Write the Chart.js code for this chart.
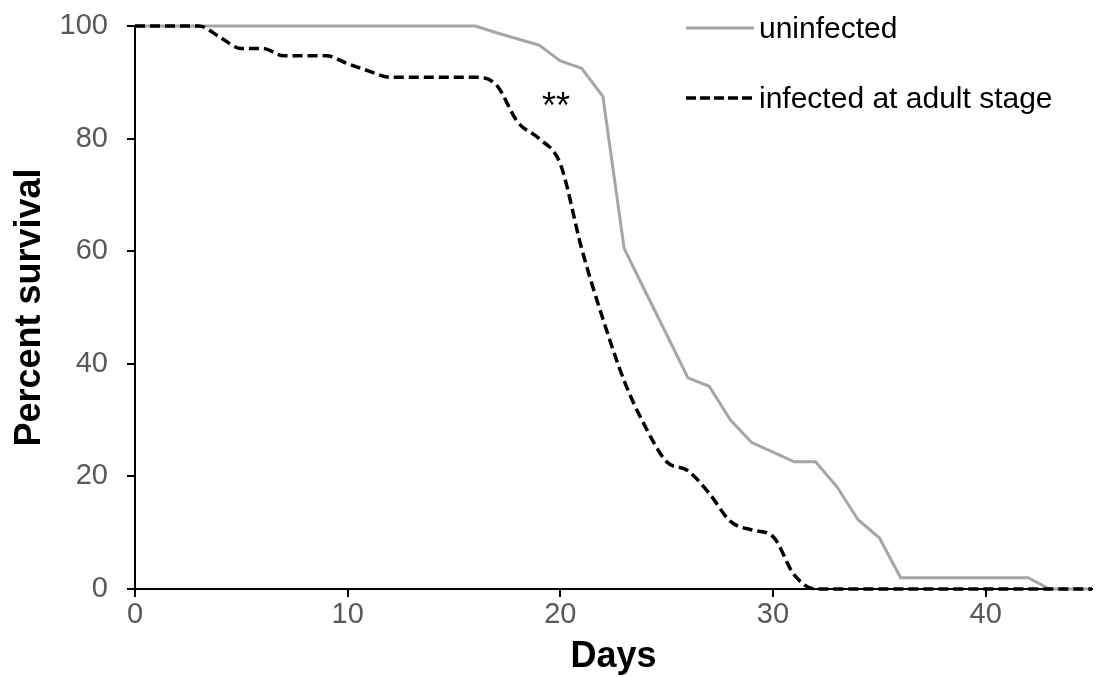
<!DOCTYPE html>
<html>
<head>
<meta charset="utf-8">
<script src="https://cdn.jsdelivr.net/npm/chart.js@4.4.1/dist/chart.umd.min.js"></script>
<style>
  html, body { margin: 0; padding: 0; background: #fff; }
  #wrap { width: 1096px; height: 677px; position: relative; }
</style>
</head>
<body>
<div id="wrap"><canvas id="survivalChart"></canvas></div>
<script>
// days 0..45
const days = [
  0, 1, 2, 3, 4, 5, 6, 7, 8, 9, 10, 11, 12, 13, 14, 15, 16, 17, 18, 19, 20, 21, 22,
  23, 24, 25, 26, 27, 28, 29, 30, 31, 32, 33, 34, 35, 36, 37, 38, 39, 40, 41, 42, 43, 44, 45,
];

const uninfected = [
  100, 100, 100, 100, 100, 100, 100, 100, 100, 100, 100, 100, 100, 100, 100, 100, 100,
  98.8, 97.7, 96.6, 93.8, 92.5, 87.5, 60.5, 52.8, 45.2, 37.5, 36, 30, 26, 24.3, 22.6,
  22.6, 18.2, 12.3, 9.1, 2, 2, 2, 2, 2, 2, 2, 0, 0, 0,
];

const infectedAdult = [
  100, 100, 100, 100, 98, 96, 96, 94.7, 94.7, 94.7, 93.3, 92, 90.9, 90.9, 90.9, 90.9,
  90.9, 89.5, 82.9, 80, 75.5, 60.5, 48, 37, 28.8, 22.6, 21, 17, 12, 10.5, 9.3, 2.5,
  0, 0, 0, 0, 0, 0, 0, 0, 0, 0, 0, 0, 0, 0,
];

const xTicks = [0, 10, 20, 30, 40];
const yTicks = [0, 20, 40, 60, 80, 100];

const seriesNames = ["uninfected", "infected at adult stage"];
const significance = "**";

const toPoints = (vals) => days.map((d, i) => ({ x: d, y: vals[i] }));

// legend drawn inside the plot, top right, like the original figure
const innerLegend = {
  id: "innerLegend",
  afterDatasetsDraw(chart) {
    const ctx = chart.ctx;
    const rows = [
      { label: seriesNames[0], color: "#a6a6a6", dash: [], y: 28, width: 3 },
      { label: seriesNames[1], color: "#000", dash: [10, 4], y: 98, width: 3.5 },
    ];
    ctx.save();
    rows.forEach((r) => {
      ctx.beginPath();
      ctx.strokeStyle = r.color;
      ctx.lineWidth = r.width;
      ctx.setLineDash(r.dash);
      ctx.moveTo(686, r.y);
      ctx.lineTo(754, r.y);
      ctx.stroke();
      ctx.setLineDash([]);
      ctx.fillStyle = "#000";
      ctx.font = "30px 'Liberation Sans', Arial, sans-serif";
      ctx.textAlign = "left";
      ctx.textBaseline = "middle";
      ctx.fillText(r.label, 759, r.y + 2);
    });

    // significance mark
    const xs = chart.scales.x;
    const ys = chart.scales.y;
    ctx.font = "36px 'Liberation Sans', Arial, sans-serif";
    ctx.textAlign = "center";
    ctx.textBaseline = "alphabetic";
    ctx.fillText(significance, xs.getPixelForValue(19.8), ys.getPixelForValue(83.7));
    ctx.restore();
  },
};

const tickFont = { family: "'Liberation Sans', Arial, sans-serif", size: 29 };
const titleFont = { family: "'Liberation Sans', Arial, sans-serif", size: 36, weight: "bold" };

new Chart(document.getElementById("survivalChart").getContext("2d"), {
  type: "line",
  data: {
    datasets: [
      {
        label: seriesNames[1],
        data: toPoints(infectedAdult),
        borderColor: "#000",
        borderWidth: 3.5,
        borderDash: [10, 5],
        cubicInterpolationMode: "monotone",
        pointRadius: 0,
        fill: false,
        clip: 6,
      },
      {
        label: seriesNames[0],
        data: toPoints(uninfected),
        borderColor: "#a6a6a6",
        borderWidth: 3,
        tension: 0,
        pointRadius: 0,
        fill: false,
        clip: 6,
      },
    ],
  },
  options: {
    responsive: true,
    maintainAspectRatio: false,
    animation: false,
    layout: { padding: { top: 26, right: 4, left: 0, bottom: 0 } },
    plugins: {
      legend: { display: false },
      tooltip: { enabled: false },
    },
    scales: {
      x: {
        type: "linear",
        min: 0,
        max: 45,
        afterBuildTicks: (scale) => {
          scale.ticks = xTicks.map((v) => ({ value: v }));
        },
        afterFit: (scale) => {
          scale.height = 88;
          scale.paddingLeft = 0;
          scale.paddingRight = 0;
        },
        ticks: { color: "#595959", font: tickFont, padding: 1 },
        grid: {
          drawOnChartArea: false,
          drawTicks: true,
          tickLength: 8,
          color: "#000",
          lineWidth: 2,
        },
        border: { display: true, color: "#000", width: 2 },
        title: {
          display: true,
          text: "Days",
          color: "#000",
          font: titleFont,
          padding: { top: 0, bottom: -2 },
        },
      },
      y: {
        min: 0,
        max: 100,
        afterBuildTicks: (scale) => {
          scale.ticks = yTicks.map((v) => ({ value: v }));
        },
        afterFit: (scale) => {
          scale.width = 135;
          scale.paddingTop = 0;
          scale.paddingBottom = 0;
        },
        ticks: { color: "#595959", font: tickFont, padding: 19 },
        grid: {
          drawOnChartArea: false,
          drawTicks: true,
          tickLength: 8,
          color: "#000",
          lineWidth: 2,
        },
        border: { display: true, color: "#000", width: 2 },
        title: {
          display: true,
          text: "Percent survival",
          color: "#000",
          font: titleFont,
          padding: { top: 8, bottom: 0 },
        },
      },
    },
  },
  plugins: [innerLegend],
});
</script>
</body>
</html>
